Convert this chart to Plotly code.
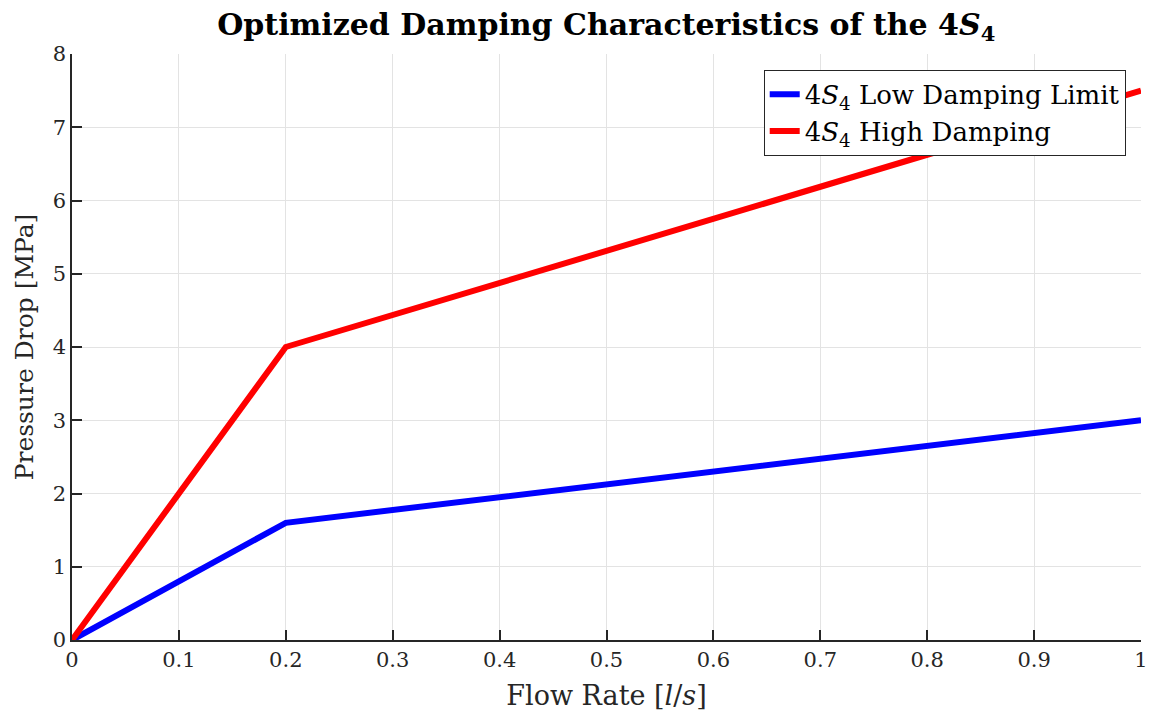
import plotly.graph_objects as go

# Flow rate [l/s] and pressure drop [MPa] for the two damping settings
flow_rate = [0.0, 0.2, 1.0]
low_damping = [0.0, 1.6, 3.0]
high_damping = [0.0, 4.0, 7.5]

x_ticks = [0, 0.1, 0.2, 0.3, 0.4, 0.5, 0.6, 0.7, 0.8, 0.9, 1]
x_tick_text = ["0", "0.1", "0.2", "0.3", "0.4", "0.5", "0.6", "0.7", "0.8", "0.9", "1"]
y_ticks = [0, 1, 2, 3, 4, 5, 6, 7, 8]

FONT = "DejaVu Serif, Liberation Serif, serif"
AXIS_COLOR = "#262626"
GRID_COLOR = "#e3e3e3"

fig = go.Figure()
fig.add_trace(go.Scatter(
    x=flow_rate, y=low_damping, mode="lines",
    name="4<i>S</i><sub>4</sub> Low Damping Limit",
    line=dict(color="#0000ff", width=6),
))
fig.add_trace(go.Scatter(
    x=flow_rate, y=high_damping, mode="lines",
    name="4<i>S</i><sub>4</sub> High Damping",
    line=dict(color="#ff0000", width=6),
))

axis_common = dict(
    showgrid=True, gridcolor=GRID_COLOR, gridwidth=1,
    showline=True, linecolor=AXIS_COLOR, linewidth=1.5,
    ticks="inside", ticklen=10, tickwidth=1.5, tickcolor=AXIS_COLOR,
    zeroline=False, mirror=False, automargin=False,
    tickfont=dict(family=FONT, size=21, color=AXIS_COLOR),
)

fig.update_layout(
    width=1151, height=716,
    margin=dict(l=72, r=10, t=54, b=76),
    paper_bgcolor="white", plot_bgcolor="white",
    font=dict(family=FONT, color=AXIS_COLOR),
    title=dict(
        text="<b>Optimized Damping Characteristics of the 4<i>S</i><sub>4</sub></b>",
        x=0.5267, xanchor="center", y=0.966, yanchor="middle",
        font=dict(family=FONT, size=30, color="black"),
    ),
    xaxis=dict(
        range=[0, 1], tickvals=x_ticks, ticktext=x_tick_text,
        title=dict(text="Flow Rate [<i>l</i>/<i>s</i>]", standoff=15,
                   font=dict(family=FONT, size=27, color=AXIS_COLOR)),
        **axis_common,
    ),
    yaxis=dict(
        range=[0, 8], tickvals=y_ticks,
        title=dict(text="Pressure Drop [MPa]", standoff=12,
                   font=dict(family=FONT, size=25, color=AXIS_COLOR)),
        **axis_common,
    ),
    legend=dict(
        x=0.9857, xanchor="right", y=0.973, yanchor="top",
        bgcolor="white", bordercolor=AXIS_COLOR, borderwidth=1,
        font=dict(family=FONT, size=26, color="black"),
        tracegroupgap=0, itemwidth=30,
    ),
    showlegend=True,
)

fig.write_html("out.html")
